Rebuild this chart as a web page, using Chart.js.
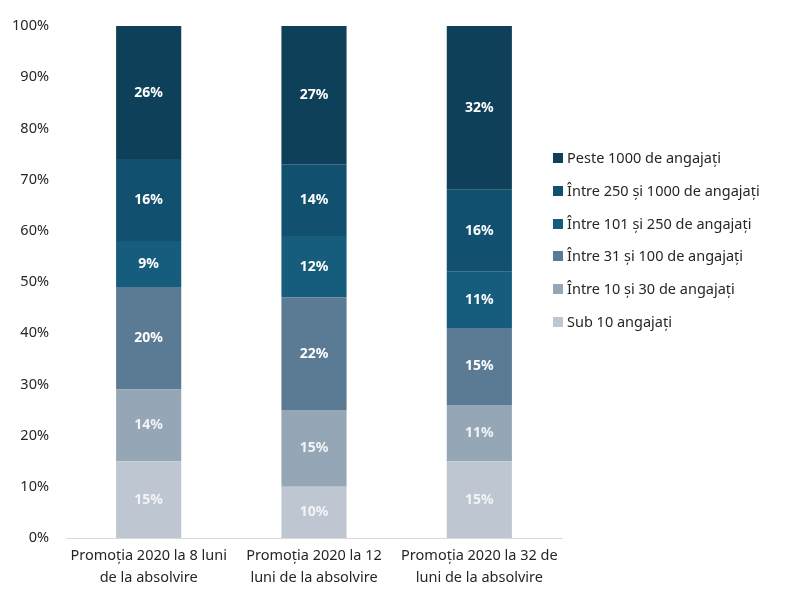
<!DOCTYPE html>
<html>
<head>
<meta charset="utf-8">
<script src="https://cdn.jsdelivr.net/npm/chart.js@4/dist/chart.umd.min.js"></script>
<style>
  html, body { margin: 0; padding: 0; background: #fff; }
  #wrap { position: relative; width: 792px; height: 592px; }
  #legend { position: absolute; left: 553px; top: 147px; font-family: "Noto Sans", sans-serif; font-size: 14.5px; color: #262626; }
  .item { height: 32.8px; display: flex; align-items: flex-start; white-space: nowrap; }
  .sw { width: 10px; height: 10px; margin: 6px 4px 0 0; flex: none; }
</style>
</head>
<body>
<div id="wrap">
  <canvas id="chart" width="792" height="592"></canvas>
  <div id="legend"></div>
</div>
<script>
const categories = [
    ['Promoția 2020 la 8 luni', 'de la absolvire'],
    ['Promoția 2020 la 12', 'luni de la absolvire'],
    ['Promoția 2020 la 32 de', 'luni de la absolvire']
];

// stacked bottom to top
const seriesNames = [
    'Sub 10 angajați',
    'Între 10 și 30 de angajați',
    'Între 31 și 100 de angajați',
    'Între 101 și 250 de angajați',
    'Între 250 și 1000 de angajați',
    'Peste 1000 de angajați'
];
const sub10 = [15, 10, 15];
const intre10_30 = [14, 15, 11];
const intre31_100 = [20, 22, 15];
const intre101_250 = [9, 12, 11];
const intre250_1000 = [16, 14, 16];
const peste1000 = [26, 27, 32];
const seriesColors = ['#bec7d1', '#95a6b6', '#5b7b95', '#165c7c', '#125070', '#0f405a'];
const yTicks = [0, 10, 20, 30, 40, 50, 60, 70, 80, 90, 100];

const seriesValues = [sub10, intre10_30, intre31_100, intre101_250, intre250_1000, peste1000];

const FONT = '"Noto Sans", sans-serif';

// white percentage labels in the middle of each segment
const segmentLabels = {
    id: 'segmentLabels',
    afterDatasetsDraw(chart) {
        const ctx = chart.ctx;
        ctx.save();
        ctx.font = 'bold 14px ' + FONT;
        ctx.textAlign = 'center';
        ctx.textBaseline = 'middle';
        chart.data.datasets.forEach((ds, i) => {
            const meta = chart.getDatasetMeta(i);
            meta.data.forEach((bar, j) => {
                const y = (bar.y + bar.base) / 2;
                ctx.fillStyle = i < 2 ? '#f2f4f6' : '#ffffff';
                ctx.fillText(ds.data[j] + '%', bar.x, y);
            });
        });
        ctx.restore();
    }
};

new Chart(document.getElementById('chart'), {
    type: 'bar',
    data: {
        labels: categories,
        datasets: seriesNames.map((name, i) => ({
            label: name,
            data: seriesValues[i],
            backgroundColor: seriesColors[i],
            borderWidth: 0,
            barPercentage: 0.394,
            categoryPercentage: 1
        }))
    },
    options: {
        responsive: false,
        animation: false,
        layout: { padding: { left: 0, right: 230, top: 26, bottom: 0 } },
        plugins: {
            legend: { display: false },
            tooltip: { enabled: false }
        },
        scales: {
            x: {
                stacked: true,
                grid: { display: false, drawTicks: false },
                border: { color: '#d9d9d9', width: 1 },
                ticks: { color: '#262626', font: { family: FONT, size: 14.5, lineHeight: 1.5 }, padding: 7, maxRotation: 0 },
                afterFit: s => { s.height = 54; }
            },
            y: {
                stacked: true,
                min: 0,
                max: 100,
                afterBuildTicks: s => { s.ticks = yTicks.map(v => ({ value: v })); },
                grid: { display: false, drawTicks: false },
                border: { display: false },
                ticks: { color: '#262626', font: { family: FONT, size: 14.5 }, padding: 17, callback: v => v + '%' },
                afterFit: s => { s.width = 66; }
            }
        }
    },
    plugins: [segmentLabels]
});

// legend, top entry first
const legend = document.getElementById('legend');
for (let i = seriesNames.length - 1; i >= 0; i--) {
    const row = document.createElement('div');
    row.className = 'item';
    row.innerHTML = '<span class="sw" style="background:' + seriesColors[i] + '"></span>' + seriesNames[i];
    legend.appendChild(row);
}
</script>
</body>
</html>
